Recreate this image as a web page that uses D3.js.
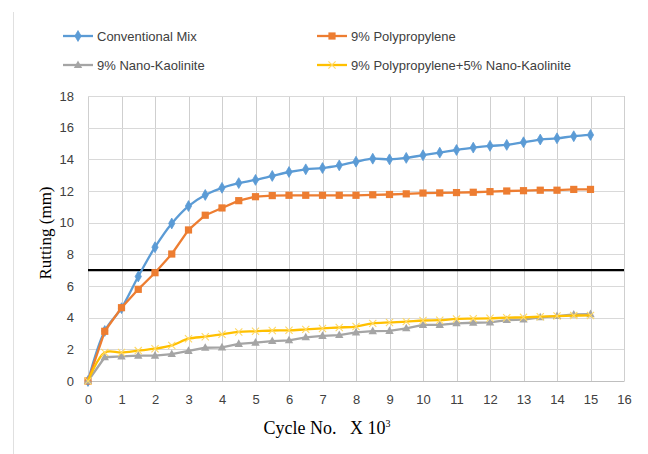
<!DOCTYPE html>
<html>
<head>
<meta charset="utf-8">
<script src="https://cdn.jsdelivr.net/npm/d3@7/dist/d3.min.js"></script>
<style>
  html, body { margin: 0; padding: 0; background: #fff; }
  svg { display: block; }
</style>
</head>
<body>
<svg id="chart" width="648" height="454"></svg>
<script>
// Cycle counts (x 10^3) at which rutting was recorded
const cycles = [0, 0.5, 1, 1.5, 2, 2.5, 3, 3.5, 4, 4.5, 5, 5.5, 6, 6.5, 7, 7.5,
                8, 8.5, 9, 9.5, 10, 10.5, 11, 11.5, 12, 12.5, 13, 13.5, 14, 14.5, 15];

// Rutting depth (mm) for each mix
const conventionalMix = [0, 3.16, 4.6, 6.6, 8.45, 9.95, 11.05, 11.75, 12.2, 12.5, 12.7,
  12.95, 13.2, 13.37, 13.45, 13.62, 13.85, 14.04, 14.0, 14.09, 14.26, 14.42, 14.59,
  14.74, 14.85, 14.91, 15.08, 15.25, 15.33, 15.46, 15.54];
const polypropylene = [0, 3.14, 4.63, 5.79, 6.84, 8.02, 9.54, 10.47, 10.93, 11.39, 11.64,
  11.71, 11.73, 11.73, 11.73, 11.73, 11.73, 11.76, 11.78, 11.82, 11.87, 11.88, 11.9,
  11.92, 11.96, 12.0, 12.02, 12.05, 12.05, 12.1, 12.1];
const nanoKaolinite = [0, 1.5, 1.55, 1.6, 1.6, 1.7, 1.9, 2.1, 2.12, 2.34, 2.42,
  2.52, 2.57, 2.76, 2.85, 2.9, 3.07, 3.15, 3.16, 3.33, 3.54, 3.54, 3.64,
  3.68, 3.7, 3.85, 3.88, 4.02, 4.1, 4.2, 4.22];
const ppNanoKaolinite = [0, 1.8, 1.8, 1.92, 2.04, 2.25, 2.67, 2.8, 2.95, 3.1, 3.14,
  3.19, 3.2, 3.26, 3.32, 3.38, 3.44, 3.64, 3.7, 3.75, 3.82, 3.84, 3.92,
  3.94, 3.96, 4.0, 4.02, 4.06, 4.1, 4.13, 4.14];

// Allowable rutting limit (mm)
const rutLimit = [7];

const seriesNames = ["Conventional Mix", "9% Polypropylene", "9% Nano-Kaolinite",
                     "9% Polypropylene+5% Nano-Kaolinite"];
const xTicks = d3.range(0, 17, 1);
const yTicks = d3.range(0, 19, 2);

const colors = ["#5B9BD5", "#ED7D31", "#A5A5A5", "#FFC000"];
const markers = ["diamond", "square", "triangle", "x"];
const smooth = [true, false, false, true];
const seriesValues = [conventionalMix, polypropylene, nanoKaolinite, ppNanoKaolinite];

const svg = d3.select("#chart");
const plot = { left: 88, right: 624, top: 96, bottom: 381 };

const x = d3.scaleLinear().domain([0, 16]).range([plot.left, plot.right]);
const y = d3.scaleLinear().domain([0, 18]).range([plot.bottom, plot.top]);

// Outer chart border on the left
svg.append("line")
  .attr("x1", 13.5).attr("x2", 13.5).attr("y1", 12).attr("y2", 454)
  .attr("stroke", "#e0e0e0").attr("stroke-width", 1);

// Gridlines
const grid = svg.append("g");
grid.selectAll("line.v").data(xTicks).join("line")
  .attr("class", "v")
  .attr("x1", d => Math.round(x(d)) + 0.5).attr("x2", d => Math.round(x(d)) + 0.5)
  .attr("y1", plot.top).attr("y2", plot.bottom)
  .attr("stroke", "#cfcfcf").attr("stroke-width", 1);
grid.selectAll("line.h").data(yTicks.filter(d => d > 0)).join("line")
  .attr("class", "h")
  .attr("x1", plot.left).attr("x2", plot.right)
  .attr("y1", d => Math.round(y(d)) + 0.5).attr("y2", d => Math.round(y(d)) + 0.5)
  .attr("stroke", "#d9d9d9").attr("stroke-width", 1);

// Axes
const tickFont = "'Liberation Sans', Arial, sans-serif";
const xAxis = svg.append("g")
  .attr("transform", `translate(0,${plot.bottom})`)
  .call(d3.axisBottom(x).tickValues(xTicks).tickSize(0).tickPadding(14));
xAxis.select(".domain").attr("stroke", "#bfbfbf").attr("stroke-width", 1);
xAxis.selectAll("text").attr("font-family", tickFont).attr("font-size", 13).attr("fill", "#404040");

const yAxis = svg.append("g")
  .attr("transform", `translate(${plot.left},0)`)
  .call(d3.axisLeft(y).tickValues(yTicks).tickSize(0).tickPadding(14));
yAxis.select(".domain").remove();
yAxis.selectAll("text").attr("font-family", tickFont).attr("font-size", 13).attr("fill", "#404040");

// Rutting limit line
svg.selectAll("line.limit").data(rutLimit).join("line")
  .attr("class", "limit")
  .attr("x1", plot.left).attr("x2", plot.right)
  .attr("y1", d => y(d)).attr("y2", d => y(d))
  .attr("stroke", "#000").attr("stroke-width", 2.2);

// Marker drawing
function drawMarker(g, type, color) {
  if (type === "diamond") {
    g.append("path").attr("d", d3.symbol(d3.symbolDiamond, 34)())
      .attr("fill", color).attr("stroke", color).attr("stroke-width", 0.8);
  } else if (type === "square") {
    g.append("rect").attr("x", -3.6).attr("y", -3.6).attr("width", 7.2).attr("height", 7.2)
      .attr("fill", color);
  } else if (type === "triangle") {
    g.append("path").attr("d", "M0,-4.6L4.2,3L-4.2,3Z").attr("fill", color);
  } else if (type === "x") {
    g.append("path").attr("d", "M-3.6,-3.6L3.6,3.6M-3.6,3.6L3.6,-3.6")
      .attr("stroke", "#FFD966").attr("stroke-width", 1.1).attr("fill", "none");
  }
}

// Series lines and markers
seriesValues.forEach((vals, i) => {
  const pts = cycles.map((c, k) => [c, vals[k]]);
  const line = d3.line()
    .x(d => x(d[0])).y(d => y(d[1]))
    .curve(smooth[i] ? d3.curveCatmullRom.alpha(0.5) : d3.curveLinear);
  const g = svg.append("g");
  g.append("path").datum(pts)
    .attr("d", line).attr("fill", "none")
    .attr("stroke", colors[i]).attr("stroke-width", 2.3)
    .attr("stroke-linejoin", "round");
  g.selectAll("g.m").data(pts).join("g")
    .attr("class", "m")
    .attr("transform", d => `translate(${x(d[0])},${y(d[1])})`)
    .each(function () { drawMarker(d3.select(this), markers[i], colors[i]); });
});

// Legend
const legendPos = [[63, 36], [317, 36], [63, 65], [317, 65]];
seriesNames.forEach((name, i) => {
  const [lx, ly] = legendPos[i];
  const g = svg.append("g").attr("transform", `translate(${lx},${ly})`);
  g.append("line").attr("x1", 0).attr("x2", 30).attr("y1", 0).attr("y2", 0)
    .attr("stroke", colors[i]).attr("stroke-width", 2.3);
  drawMarker(g.append("g").attr("transform", "translate(15,0)"), markers[i], colors[i]);
  g.append("text").attr("x", 34).attr("y", 0).attr("dy", "0.35em")
    .attr("font-family", tickFont).attr("font-size", 13).attr("fill", "#404040")
    .text(name);
});

// Axis titles
const serif = "'Liberation Serif', 'Times New Roman', serif";
const xTitle = svg.append("text")
  .attr("x", 327).attr("y", 434).attr("text-anchor", "middle")
  .attr("font-family", serif).attr("font-size", 18).attr("fill", "#000")
  .style("white-space", "pre");
xTitle.append("tspan").text("Cycle No.\u00A0\u00A0\u00A0X 10");
xTitle.append("tspan").attr("dy", -7).attr("font-size", 10).text("3");

svg.append("text")
  .attr("transform", "translate(45,233) rotate(-90)")
  .attr("text-anchor", "middle").attr("dy", "0.35em")
  .attr("font-family", serif).attr("font-size", 17).attr("fill", "#000")
  .text("Rutting (mm)");
</script>
</body>
</html>
